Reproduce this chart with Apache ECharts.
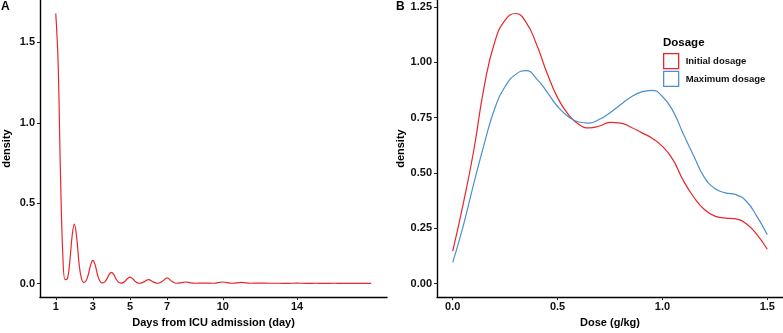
<!DOCTYPE html>
<html>
<head>
<meta charset="utf-8">
<script src="https://cdn.jsdelivr.net/npm/echarts@6/dist/echarts.min.js"></script>
<style>
html,body{margin:0;padding:0;background:#fff;}
#c{width:783px;height:333px;}
</style>
</head>
<body>
<div id="c"></div>
<script>
// Panel A: density of days from ICU admission
const daysA = [1.0,1.125,1.25,1.375,1.5,1.625,1.75,1.875,2.0,2.125,2.25,2.375,2.5,2.625,2.75,2.875,3.0,3.125,3.25,3.375,3.5,3.625,3.75,3.875,4.0,4.125,4.25,4.375,4.5,4.625,4.75,4.875,5.0,5.125,5.25,5.375,5.5,5.75,6.0,6.25,6.5,6.75,7.0,7.25,7.5,7.75,8.0,8.25,8.5,9.0,9.5,10.0,10.5,11.0,11.5,12.0,12.5,13.0,13.5,14.0,14.5,15.0,15.5,16.0,16.5,17.0,17.5,18.0];
const densityA = [1.68,1.38,0.70,0.19,0.025,0.03,0.13,0.29,0.37,0.29,0.13,0.035,0.008,0.016,0.055,0.115,0.145,0.115,0.055,0.016,0.004,0.009,0.028,0.056,0.07,0.056,0.028,0.009,0.003,0.006,0.017,0.032,0.04,0.032,0.017,0.006,0.002,0.011,0.025,0.011,0.002,0.015,0.035,0.015,0.002,0.005,0.01,0.005,0.002,0.003,0.002,0.01,0.002,0.008,0.002,0.003,0.002,0.002,0.001,0.003,0.001,0.002,0.001,0.002,0.001,0.001,0.001,0.001];
const xTicksA = [1,3,5,7,10,14];
const yTicksA = [0,0.5,1.0,1.5];

// Panel B: density of dose
const doseB = [0,0.05,0.1,0.15,0.2,0.25,0.3,0.35,0.4,0.45,0.5,0.55,0.6,0.65,0.7,0.75,0.8,0.85,0.9,0.95,1.0,1.05,1.1,1.15,1.2,1.25,1.3,1.35,1.4,1.45,1.5];
const initialB = [0.147,0.36,0.60,0.89,1.09,1.19,1.22,1.18,1.08,0.95,0.84,0.765,0.72,0.703,0.712,0.728,0.725,0.706,0.682,0.657,0.62,0.56,0.465,0.39,0.335,0.305,0.296,0.292,0.27,0.222,0.155];
const maximumB = [0.096,0.26,0.45,0.63,0.79,0.89,0.945,0.962,0.925,0.865,0.80,0.755,0.73,0.725,0.742,0.772,0.808,0.843,0.866,0.873,0.845,0.78,0.675,0.575,0.48,0.43,0.41,0.402,0.372,0.305,0.221];
const xTicksB = [0,0.5,1.0,1.5];
const yTicksB = [0,0.25,0.5,0.75,1.0,1.25];
const seriesNamesB = ['Initial dosage','Maximum dosage'];

const RED = '#E8262A', BLUE = '#4A8FCF';
const FONT = 'Liberation Sans';

const chart = echarts.init(document.getElementById('c'), null, {renderer:'canvas'});

function axisCommon(){
  return {
    axisLine:{show:true, onZero:false, lineStyle:{color:'#000', width:1.4}},
    splitLine:{show:false},
    nameTextStyle:{fontFamily:FONT, fontWeight:'bold', fontSize:11, color:'#000'},
  };
}

const option = {
  animation:false,
  backgroundColor:'#fff',
  textStyle:{fontFamily:FONT},
  title:[
    {text:'A', left:1, top:1, padding:0, textStyle:{fontFamily:FONT, fontWeight:'bold', fontSize:12, color:'#000'}},
    {text:'B', left:396, top:1, padding:0, textStyle:{fontFamily:FONT, fontWeight:'bold', fontSize:12, color:'#000'}},
    {text:'Dosage', left:663, top:37, padding:0, textStyle:{fontFamily:FONT, fontWeight:'bold', fontSize:11.5, color:'#000'}}
  ],
  legend:{
    orient:'vertical', left:663, top:53, padding:0,
    itemWidth:15, itemHeight:15, itemGap:1.5,
    icon:'rect',
    textStyle:{fontFamily:FONT, fontWeight:'bold', fontSize:9.5, color:'#111', padding:[0,0,0,2]},
    data:[
      {name:seriesNamesB[0], itemStyle:{color:'#fff', borderColor:RED, borderWidth:1.3}},
      {name:seriesNamesB[1], itemStyle:{color:'#fff', borderColor:BLUE, borderWidth:1.3}}
    ]
  },
  grid:[
    {left:40, top:0, width:347, height:304, containLabel:false},
    {left:437, top:0, width:346, height:304, containLabel:false}
  ],
  xAxis:[
    Object.assign(axisCommon(), {
      gridIndex:0, type:'value', min:0.15, max:18.85,
      name:'Days from ICU admission (day)', nameLocation:'middle', nameGap:16,
      axisTick:{show:true, length:3, customValues:xTicksA, lineStyle:{color:'#222', width:1}},
      axisLabel:{customValues:xTicksA, margin:4, fontFamily:FONT, fontWeight:'bold', fontSize:11, color:'#111',
        formatter:v=>String(v)}
    }),
    Object.assign(axisCommon(), {
      gridIndex:1, type:'value', min:-0.075, max:1.575,
      name:'Dose (g/kg)', nameLocation:'middle', nameGap:16,
      axisTick:{show:true, length:3, customValues:xTicksB, lineStyle:{color:'#222', width:1}},
      axisLabel:{customValues:xTicksB, margin:4, fontFamily:FONT, fontWeight:'bold', fontSize:11, color:'#111',
        formatter:v=>v.toFixed(1)}
    })
  ],
  yAxis:[
    Object.assign(axisCommon(), {
      gridIndex:0, type:'value', min:-0.084, max:1.764,
      name:'density', nameLocation:'middle', nameGap:28,
      axisTick:{show:true, length:3, customValues:yTicksA, lineStyle:{color:'#222', width:1}},
      axisLabel:{customValues:yTicksA, margin:5, fontFamily:FONT, fontWeight:'bold', fontSize:11, color:'#111',
        formatter:v=>v.toFixed(1)}
    }),
    Object.assign(axisCommon(), {
      gridIndex:1, type:'value', min:-0.061, max:1.281,
      name:'density', nameLocation:'middle', nameGap:30,
      axisTick:{show:true, length:3, customValues:yTicksB, lineStyle:{color:'#222', width:1}},
      axisLabel:{customValues:yTicksB, margin:5, fontFamily:FONT, fontWeight:'bold', fontSize:11, color:'#111',
        formatter:v=>v.toFixed(2)}
    })
  ],
  series:[
    {
      type:'line', xAxisIndex:0, yAxisIndex:0, name:'days',
      data:daysA.map((d,i)=>[d, densityA[i]]),
      smooth:0.4, showSymbol:false, symbol:'none',
      lineStyle:{color:RED, width:1.2}, itemStyle:{color:RED}
    },
    {
      type:'line', xAxisIndex:1, yAxisIndex:1, name:seriesNamesB[0],
      data:doseB.map((d,i)=>[d, initialB[i]]),
      smooth:0.5, showSymbol:false, symbol:'none',
      lineStyle:{color:RED, width:1.2}, itemStyle:{color:RED}
    },
    {
      type:'line', xAxisIndex:1, yAxisIndex:1, name:seriesNamesB[1],
      data:doseB.map((d,i)=>[d, maximumB[i]]),
      smooth:0.5, showSymbol:false, symbol:'none',
      lineStyle:{color:BLUE, width:1.2}, itemStyle:{color:BLUE}
    }
  ]
};
chart.setOption(option);
</script>
</body>
</html>
